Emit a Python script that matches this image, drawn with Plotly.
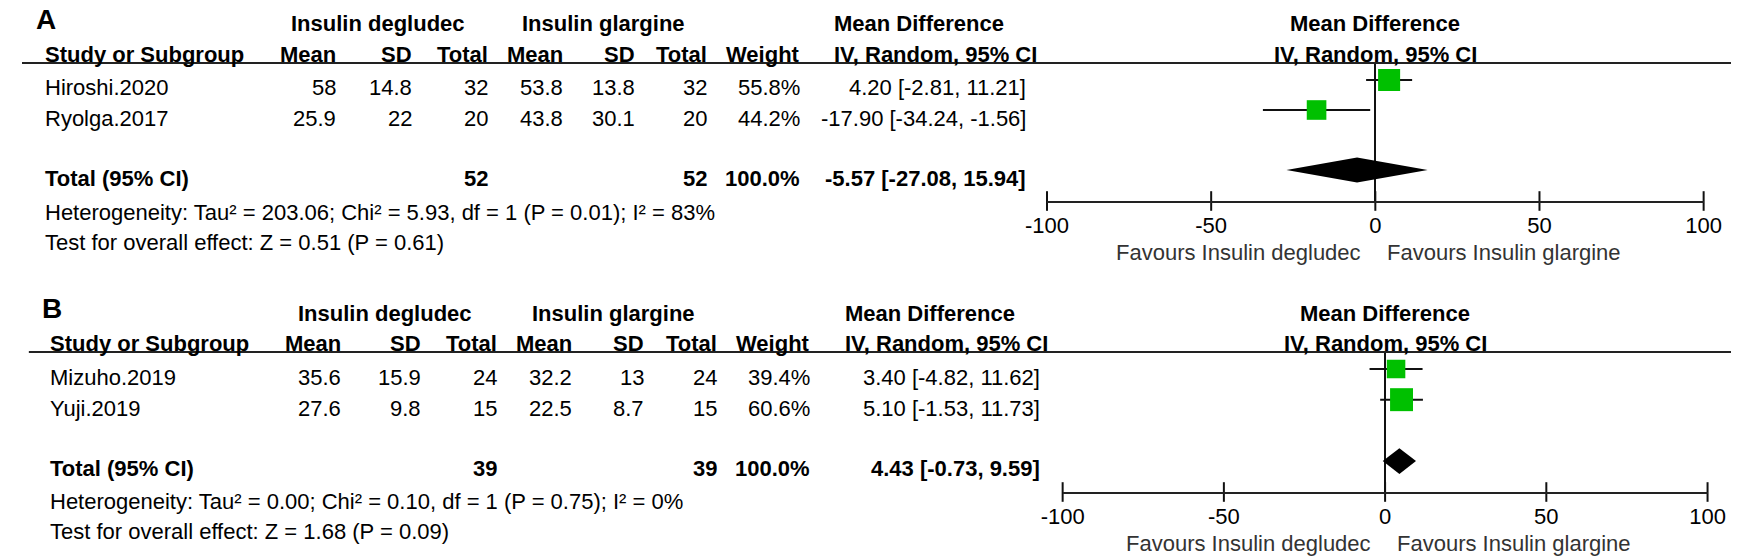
import plotly.graph_objects as go

W, H = 1749, 558
FONT = "Arial, Liberation Sans, sans-serif"
GREEN = "#00c000"

# ---- data: panel A ----
studies_a = ["Hiroshi.2020", "Ryolga.2017"]
deg_mean_a = [58, 25.9]
deg_sd_a = [14.8, 22]
deg_n_a = [32, 20]
gla_mean_a = [53.8, 43.8]
gla_sd_a = [13.8, 30.1]
gla_n_a = [32, 20]
weight_a = [55.8, 44.2]
md_a = [4.20, -17.90]
lo_a = [-2.81, -34.24]
hi_a = [11.21, -1.56]
total_a = [52, 52, 100.0, -5.57, -27.08, 15.94]  # n deg, n gla, weight, md, lo, hi
het_a = "Heterogeneity: Tau² = 203.06; Chi² = 5.93, df = 1 (P = 0.01); I² = 83%"
test_a = "Test for overall effect: Z = 0.51 (P = 0.61)"

# ---- data: panel B ----
studies_b = ["Mizuho.2019", "Yuji.2019"]
deg_mean_b = [35.6, 27.6]
deg_sd_b = [15.9, 9.8]
deg_n_b = [24, 15]
gla_mean_b = [32.2, 22.5]
gla_sd_b = [13, 8.7]
gla_n_b = [24, 15]
weight_b = [39.4, 60.6]
md_b = [3.40, 5.10]
lo_b = [-4.82, -1.53]
hi_b = [11.62, 11.73]
total_b = [39, 39, 100.0, 4.43, -0.73, 9.59]
het_b = "Heterogeneity: Tau² = 0.00; Chi² = 0.10, df = 1 (P = 0.75); I² = 0%"
test_b = "Test for overall effect: Z = 1.68 (P = 0.09)"

tick_vals = [-100, -50, 0, 50, 100]
tick_text = ["-100", "-50", "0", "50", "100"]
fav_left = "Favours Insulin degludec"
fav_right = "Favours Insulin glargine"

# pixel geometry of each panel
geo_a = dict(label="A", line_x0=0, line_y=63, row0=80, step=30, axis_y=201,
             ax_x0=1049, ax_x1=1721, study_x=21,
             cols=[323, 401, 479, 556, 629, 703, 798], md_x=1030, md_head_x=829,
             deg_c=364, gla_c=595)
geo_b = dict(label="B", line_x0=7, line_y=352, row0=369, step=30.67, axis_y=492,
             ax_x0=1065, ax_x1=1725, study_x=27,
             cols=[329, 410, 488, 565, 639, 713, 809], md_x=1044, md_head_x=840,
             deg_c=372, gla_c=605)

fig = go.Figure()


def text(x, y, s, anchor="left", bold=False, size=22):
    if bold:
        s = "<b>" + s + "</b>"
    fig.add_annotation(x=x / W, y=1 - y / H, xref="paper", yref="paper", text=s,
                       showarrow=False, xanchor=anchor, yanchor="middle",
                       font=dict(size=size, color="black", family=FONT))


def fmt(v):
    return f"{v:g}"


def panel(g, ax, studies, dm, dsd, dn, gm, gsd, gn, wt, md, lo, hi, tot, het, test):
    ly = g["line_y"]
    c = g["cols"]
    # titles and headers
    text(g["study_x"] - 9, ly - 44, g["label"], bold=True, size=28)
    text(g["deg_c"], ly - 39, "Insulin degludec", "center", bold=True)
    text(g["gla_c"], ly - 39, "Insulin glargine", "center", bold=True)
    text(g["md_head_x"], ly - 39, "Mean Difference", bold=True)
    text(g["study_x"], ly - 9, "Study or Subgroup", bold=True)
    for x, h in zip(c, ["Mean", "SD", "Total", "Mean", "SD", "Total", "Weight"]):
        text(x, ly - 9, h, "right", bold=True)
    text(g["md_head_x"], ly - 9, "IV, Random, 95% CI", bold=True)
    # study rows
    for i, s in enumerate(studies):
        y = ly + 25 + 31 * i
        text(g["study_x"], y, s)
        vals = [fmt(dm[i]), fmt(dsd[i]), fmt(dn[i]), fmt(gm[i]), fmt(gsd[i]), fmt(gn[i]),
                f"{wt[i]:.1f}%"]
        for x, v in zip(c, vals):
            text(x, y, v, "right")
        text(g["md_x"], y, f"{md[i]:.2f} [{lo[i]:.2f}, {hi[i]:.2f}]", "right")
    # total row
    y = ly + 116
    text(g["study_x"], y, "Total (95% CI)", bold=True)
    text(c[2], y, fmt(tot[0]), "right", bold=True)
    text(c[5], y, fmt(tot[1]), "right", bold=True)
    text(c[6], y, f"{tot[2]:.1f}%", "right", bold=True)
    text(g["md_x"], y, f"{tot[3]:.2f} [{tot[4]:.2f}, {tot[5]:.2f}]", "right", bold=True)
    text(g["study_x"], ly + 149, het)
    text(g["study_x"], ly + 179, test)

    # header rule
    fig.add_shape(type="line", xref="paper", yref="paper",
                  x0=g["line_x0"] / W, x1=1, y0=1 - ly / H, y1=1 - ly / H,
                  line=dict(color="#222", width=2))

    xa, ya = "x" + ax, "y" + ax
    rows = list(range(len(studies)))
    total_row = len(studies) + 1
    top = (ly - g["row0"]) / g["step"]
    bottom = (g["axis_y"] - g["row0"]) / g["step"]

    # study squares with CI whiskers
    fig.add_trace(go.Scatter(
        x=md, y=rows, mode="markers", xaxis=xa, yaxis=ya, cliponaxis=False,
        marker=dict(symbol="square", color=GREEN, opacity=1,
                    size=[29.5 * (w / 100) ** 0.5 for w in wt], line=dict(width=0)),
        error_x=dict(type="data", array=[h - m for h, m in zip(hi, md)],
                     arrayminus=[m - l for m, l in zip(md, lo)],
                     color="#111", thickness=2, width=0)))
    # pooled diamond
    h = 0.42
    fig.add_trace(go.Scatter(
        x=[tot[4], tot[3], tot[5], tot[3], tot[4]],
        y=[total_row, total_row - h, total_row, total_row + h, total_row],
        mode="lines", fill="toself", fillcolor="black", line=dict(width=0, color="black"),
        xaxis=xa, yaxis=ya))
    # crossing tick marks on the axis
    fig.add_trace(go.Scatter(
        x=tick_vals, y=[bottom] * len(tick_vals), mode="markers", xaxis=xa, yaxis=ya,
        cliponaxis=False,
        marker=dict(symbol="line-ns", size=14, line=dict(width=2, color="#111"))))

    # favours labels and plot header
    fy = 1 - (g["axis_y"] + 51) / H
    fig.add_annotation(x=0, y=fy, xref=xa, yref="paper", text=fav_left,
                       showarrow=False, xanchor="right", yanchor="middle", xshift=-12,
                       font=dict(size=22, color="#333", family=FONT))
    fig.add_annotation(x=0, y=fy, xref=xa, yref="paper", text=fav_right,
                       showarrow=False, xanchor="left", yanchor="middle", xshift=10,
                       font=dict(size=22, color="#333", family=FONT))
    fig.add_annotation(x=0, y=1 - (ly - 39) / H, xref=xa, yref="paper", text="<b>Mean Difference</b>",
                       showarrow=False, xanchor="center", yanchor="middle",
                       font=dict(size=22, color="black", family=FONT))
    fig.add_annotation(x=0, y=1 - (ly - 9) / H, xref=xa, yref="paper", text="<b>IV, Random, 95% CI</b>",
                       showarrow=False, xanchor="center", yanchor="middle",
                       font=dict(size=22, color="black", family=FONT))

    xkey = "xaxis" + ax
    ykey = "yaxis" + ax
    fig.update_layout(**{
        xkey: dict(domain=[g["ax_x0"] / W, g["ax_x1"] / W], range=[-100, 100], anchor=ya,
                   showgrid=False, zeroline=True, zerolinecolor="#111", zerolinewidth=1.5,
                   showline=True, linecolor="#222", linewidth=2,
                   tickvals=tick_vals, ticktext=tick_text, ticks="outside", ticklen=4,
                   tickcolor="rgba(0,0,0,0)", tickfont=dict(size=22, color="black", family=FONT)),
        ykey: dict(domain=[1 - g["axis_y"] / H, 1 - ly / H], range=[bottom, top], anchor=xa,
                   visible=False, showgrid=False, zeroline=False),
    })


panel(geo_a, "", studies_a, deg_mean_a, deg_sd_a, deg_n_a, gla_mean_a, gla_sd_a, gla_n_a,
      weight_a, md_a, lo_a, hi_a, total_a, het_a, test_a)
panel(geo_b, "2", studies_b, deg_mean_b, deg_sd_b, deg_n_b, gla_mean_b, gla_sd_b, gla_n_b,
      weight_b, md_b, lo_b, hi_b, total_b, het_b, test_b)

fig.update_layout(width=W, height=H, margin=dict(l=0, r=0, t=0, b=0),
                  paper_bgcolor="white", plot_bgcolor="white", showlegend=False,
                  font=dict(family=FONT, color="black"))

# drop the browser's default body margin so the figure sits at the page corner
fig.write_html("out.html", config={"displayModeBar": False},
               post_script="document.body.style.margin = '0';")
